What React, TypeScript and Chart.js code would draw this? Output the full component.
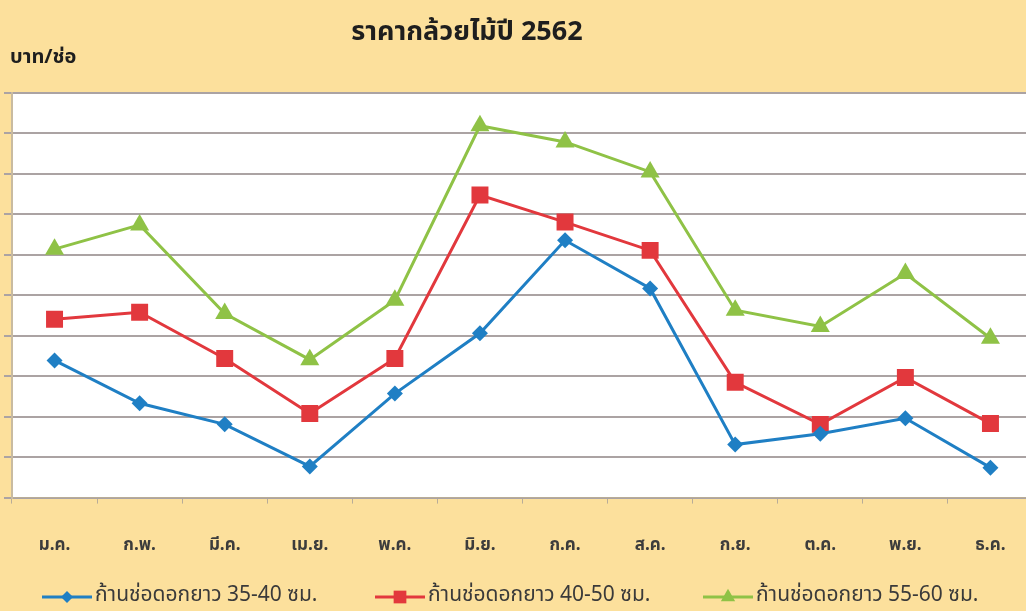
import React, { useEffect, useRef } from 'react';
import { Chart, registerables } from 'chart.js';

Chart.register(...registerables);

const months = ['ม.ค.', 'ก.พ.', 'มี.ค.', 'เม.ย.', 'พ.ค.', 'มิ.ย.', 'ก.ค.', 'ส.ค.', 'ก.ย.', 'ต.ค.', 'พ.ย.', 'ธ.ค.'];
const series35to40 = [3.39, 2.33, 1.81, 0.77, 2.57, 4.06, 6.36, 5.17, 1.31, 1.58, 1.96, 0.74];
const series40to50 = [4.41, 4.58, 3.44, 2.08, 3.44, 7.48, 6.81, 6.11, 2.85, 1.81, 2.97, 1.83];
const series55to60 = [6.14, 6.74, 4.55, 3.41, 4.88, 9.19, 8.79, 8.05, 4.63, 4.23, 5.54, 3.94];
const seriesLabels = ['ก้านช่อดอกยาว 35-40 ซม.', 'ก้านช่อดอกยาว 40-50 ซม.', 'ก้านช่อดอกยาว 55-60 ซม.'];
const titleText = 'ราคากล้วยไม้ปี 2562';
const yAxisLabel = 'บาท/ช่อ';
const yMin = 0;
const yMax = 10;
const yStep = 1;

const FONT = '"Noto Sans Thai", "Noto Sans", "DejaVu Sans", sans-serif';
const BG = '#FCE09C';
const BLUE = '#1F7FC4';
const RED = '#E2383D';
const GREEN = '#8FC246';
const styles = ['rectRot', 'rect', 'triangle'];
const colors = [BLUE, RED, GREEN];
const radii = [8, 12, 11];

function drawMarker(ctx: CanvasRenderingContext2D, style: string, x: number, y: number, r: number, color: string) {
  ctx.save();
  ctx.fillStyle = color;
  ctx.beginPath();
  if (style === 'rectRot') {
    ctx.moveTo(x - r, y);
    ctx.lineTo(x, y - r);
    ctx.lineTo(x + r, y);
    ctx.lineTo(x, y + r);
  } else if (style === 'rect') {
    const s = r * Math.SQRT1_2;
    ctx.rect(x - s, y - s, 2 * s, 2 * s);
  } else {
    ctx.moveTo(x, y - r);
    ctx.lineTo(x + r * 0.866, y + r / 2);
    ctx.lineTo(x - r * 0.866, y + r / 2);
  }
  ctx.closePath();
  ctx.fill();
  ctx.restore();
}

const decorPlugin = {
  id: 'decor',
  beforeDraw(chart: any) {
    const { ctx, chartArea, width, height } = chart;
    ctx.save();
    ctx.fillStyle = BG;
    ctx.fillRect(0, 0, width, height);
    ctx.fillStyle = '#FFFFFF';
    ctx.fillRect(chartArea.left, chartArea.top, chartArea.right - chartArea.left, chartArea.bottom - chartArea.top);
    ctx.restore();
  },
  afterDraw(chart: any) {
    const { ctx } = chart;
    ctx.save();
    ctx.fillStyle = '#1E1E1E';
    ctx.textAlign = 'center';
    ctx.textBaseline = 'middle';
    ctx.font = `bold 27px ${FONT}`;
    ctx.fillText(titleText, 467, 35);
    ctx.textAlign = 'left';
    ctx.font = `bold 20px ${FONT}`;
    ctx.fillText(yAxisLabel, 10, 59);

    const legendY = 597;
    const lineStarts = [42, 375, 703];
    ctx.font = `21px ${FONT}`;
    chart.data.datasets.forEach((ds: any, i: number) => {
      const x0 = lineStarts[i];
      ctx.strokeStyle = colors[i];
      ctx.lineWidth = 3;
      ctx.beginPath();
      ctx.moveTo(x0, legendY);
      ctx.lineTo(x0 + 50, legendY);
      ctx.stroke();
      drawMarker(ctx, styles[i], x0 + 25, legendY, radii[i] * 0.75, colors[i]);
      ctx.fillStyle = '#3A3A3A';
      ctx.textBaseline = 'middle';
      ctx.fillText(ds.label, x0 + 53, legendY);
    });
    ctx.restore();
  },
};

export default function App() {
  const ref = useRef<HTMLCanvasElement | null>(null);
  useEffect(() => {
    if (!ref.current) return;
    const mk = (label: string, data: number[], i: number) => ({
      label,
      data,
      borderColor: colors[i],
      backgroundColor: colors[i],
      borderWidth: 3,
      pointStyle: styles[i],
      pointRadius: radii[i],
      pointBorderWidth: 0,
      pointBackgroundColor: colors[i],
      tension: 0,
    });
    const chart = new Chart(ref.current, {
      type: 'line',
      data: {
        labels: months,
        datasets: [
          mk(seriesLabels[0], series35to40, 0),
          mk(seriesLabels[1], series40to50, 1),
          mk(seriesLabels[2], series55to60, 2),
        ],
      },
      options: {
        responsive: false,
        animation: false,
        layout: { padding: { top: 93, bottom: 21, left: 2, right: 12 } },
        plugins: { legend: { display: false }, title: { display: false }, tooltip: { enabled: false } },
        scales: {
          x: {
            offset: true,
            grid: { offset: true, drawOnChartArea: false, drawTicks: true, tickLength: 6, color: '#B8AC98', lineWidth: 1 },
            border: { color: '#B8AC98', width: 1 },
            ticks: { color: '#3C3C3C', padding: 33, font: { family: FONT, size: 17, weight: 'bold' } },
          },
          y: {
            min: yMin,
            max: yMax,
            ticks: { display: false, stepSize: yStep },
            grid: { color: '#ABA3A3', lineWidth: 2, drawTicks: true, tickLength: 8 },
            border: { color: '#C9BBA0', width: 2 },
          },
        },
      },
      plugins: [decorPlugin],
    });
    return () => chart.destroy();
  }, []);
  return (
    <div style={{ position: 'fixed', left: 0, top: 0, width: 1026, height: 611, overflow: 'hidden', background: BG }}>
      <canvas ref={ref} width={1045} height={611} style={{ display: 'block' }} />
    </div>
  );
}
